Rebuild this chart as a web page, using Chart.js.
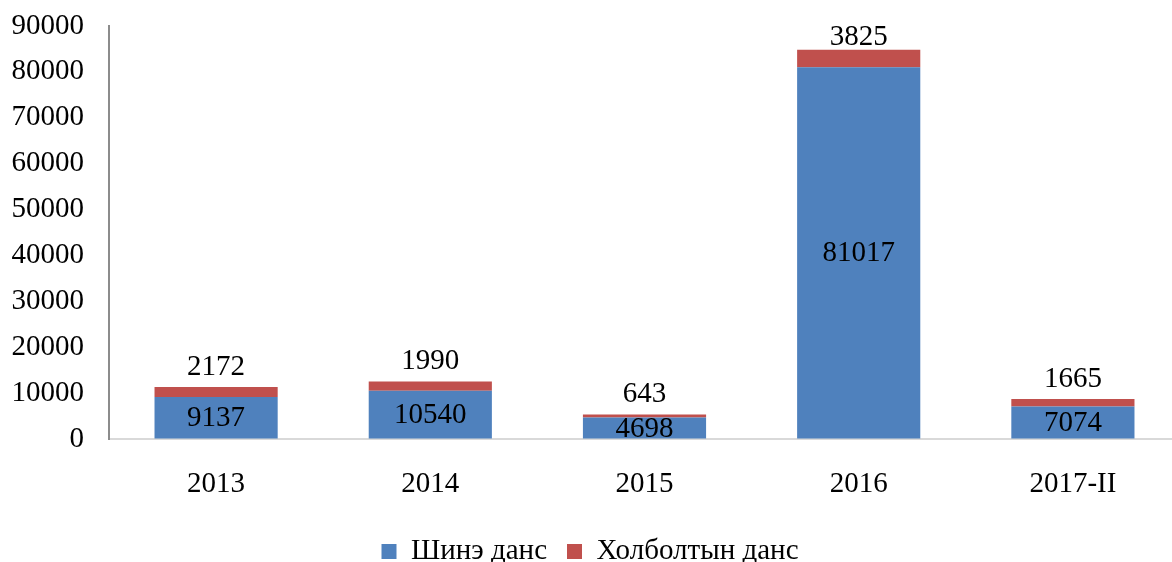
<!DOCTYPE html>
<html>
<head>
<meta charset="utf-8">
<script src="https://cdn.jsdelivr.net/npm/chart.js@4.4.1/dist/chart.umd.min.js"></script>
<style>
  html, body { margin: 0; padding: 0; background: #fff; overflow: hidden; }
  #wrap { width: 1180px; height: 562px; position: relative; }
</style>
</head>
<body>
<div id="wrap"><canvas id="myChart"></canvas></div>
<script>
const years = ['2013', '2014', '2015', '2016', '2017-II'];
const newAccounts = [9137, 10540, 4698, 81017, 7074];
const linkedAccounts = [2172, 1990, 643, 3825, 1665];
const seriesNames = ['Шинэ данс', 'Холболтын данс'];
const yTicks = [0, 10000, 20000, 30000, 40000, 50000, 60000, 70000, 80000, 90000];

const FONT = "'Liberation Serif', 'Times New Roman', serif";
const FS = 29;

// draws the value labels: blue ones in the middle of the bar, red ones above it
const valueLabels = {
  id: 'valueLabels',
  afterDatasetsDraw(chart) {
    const c = chart.ctx;
    c.save();
    c.font = FS + 'px ' + FONT;
    c.fillStyle = '#000';
    c.textAlign = 'center';
    c.textBaseline = 'middle';
    chart.getDatasetMeta(0).data.forEach((bar, i) => {
      c.fillText(String(newAccounts[i]), bar.x, (bar.y + bar.base) / 2 + 1);
    });
    chart.getDatasetMeta(1).data.forEach((bar, i) => {
      let y = Math.max(bar.y - 20, 37);
      c.fillText(String(linkedAccounts[i]), bar.x, y);
    });
    c.restore();
  }
};

const ctx = document.getElementById('myChart');

new Chart(ctx, {
  type: 'bar',
  data: {
    labels: years,
    datasets: [{
      label: seriesNames[0],
      data: newAccounts,
      backgroundColor: '#4F81BD',
      borderWidth: 0
    }, {
      label: seriesNames[1],
      data: linkedAccounts,
      backgroundColor: '#C0504D',
      borderWidth: 0
    }]
  },
  plugins: [valueLabels],
  options: {
    responsive: true,
    maintainAspectRatio: false,
    animation: false,
    layout: { padding: { left: 0, right: 0, top: 26, bottom: -14 } },
    datasets: { bar: { categoryPercentage: 0.575, barPercentage: 1 } },
    plugins: {
      tooltip: { enabled: false },
      legend: {
        position: 'bottom',
        labels: {
          font: { family: FONT, size: FS },
          color: '#000',
          boxWidth: 15,
          boxHeight: 15,
          padding: 20
        }
      }
    },
    scales: {
      x: {
        stacked: true,
        grid: { color: 'transparent', drawTicks: false },
        border: { display: true, color: '#d9d9d9', width: 2 },
        ticks: { font: { family: FONT, size: FS }, color: '#000', padding: 28 },
        afterFit: s => { s.height = 78; }
      },
      y: {
        stacked: true,
        min: 0,
        max: 90000,
        afterBuildTicks: s => { s.ticks = yTicks.map(v => ({ value: v })); },
        grid: { color: 'transparent', drawTicks: false },
        border: { display: true, color: '#8c8c8c', width: 2 },
        ticks: {
          font: { family: FONT, size: FS },
          color: '#000',
          padding: 25,
          callback: v => String(v)
        },
        afterFit: s => { s.width = 109; s.paddingTop = 0; s.paddingBottom = 0; }
      }
    }
  }
});
</script>
</body>
</html>
